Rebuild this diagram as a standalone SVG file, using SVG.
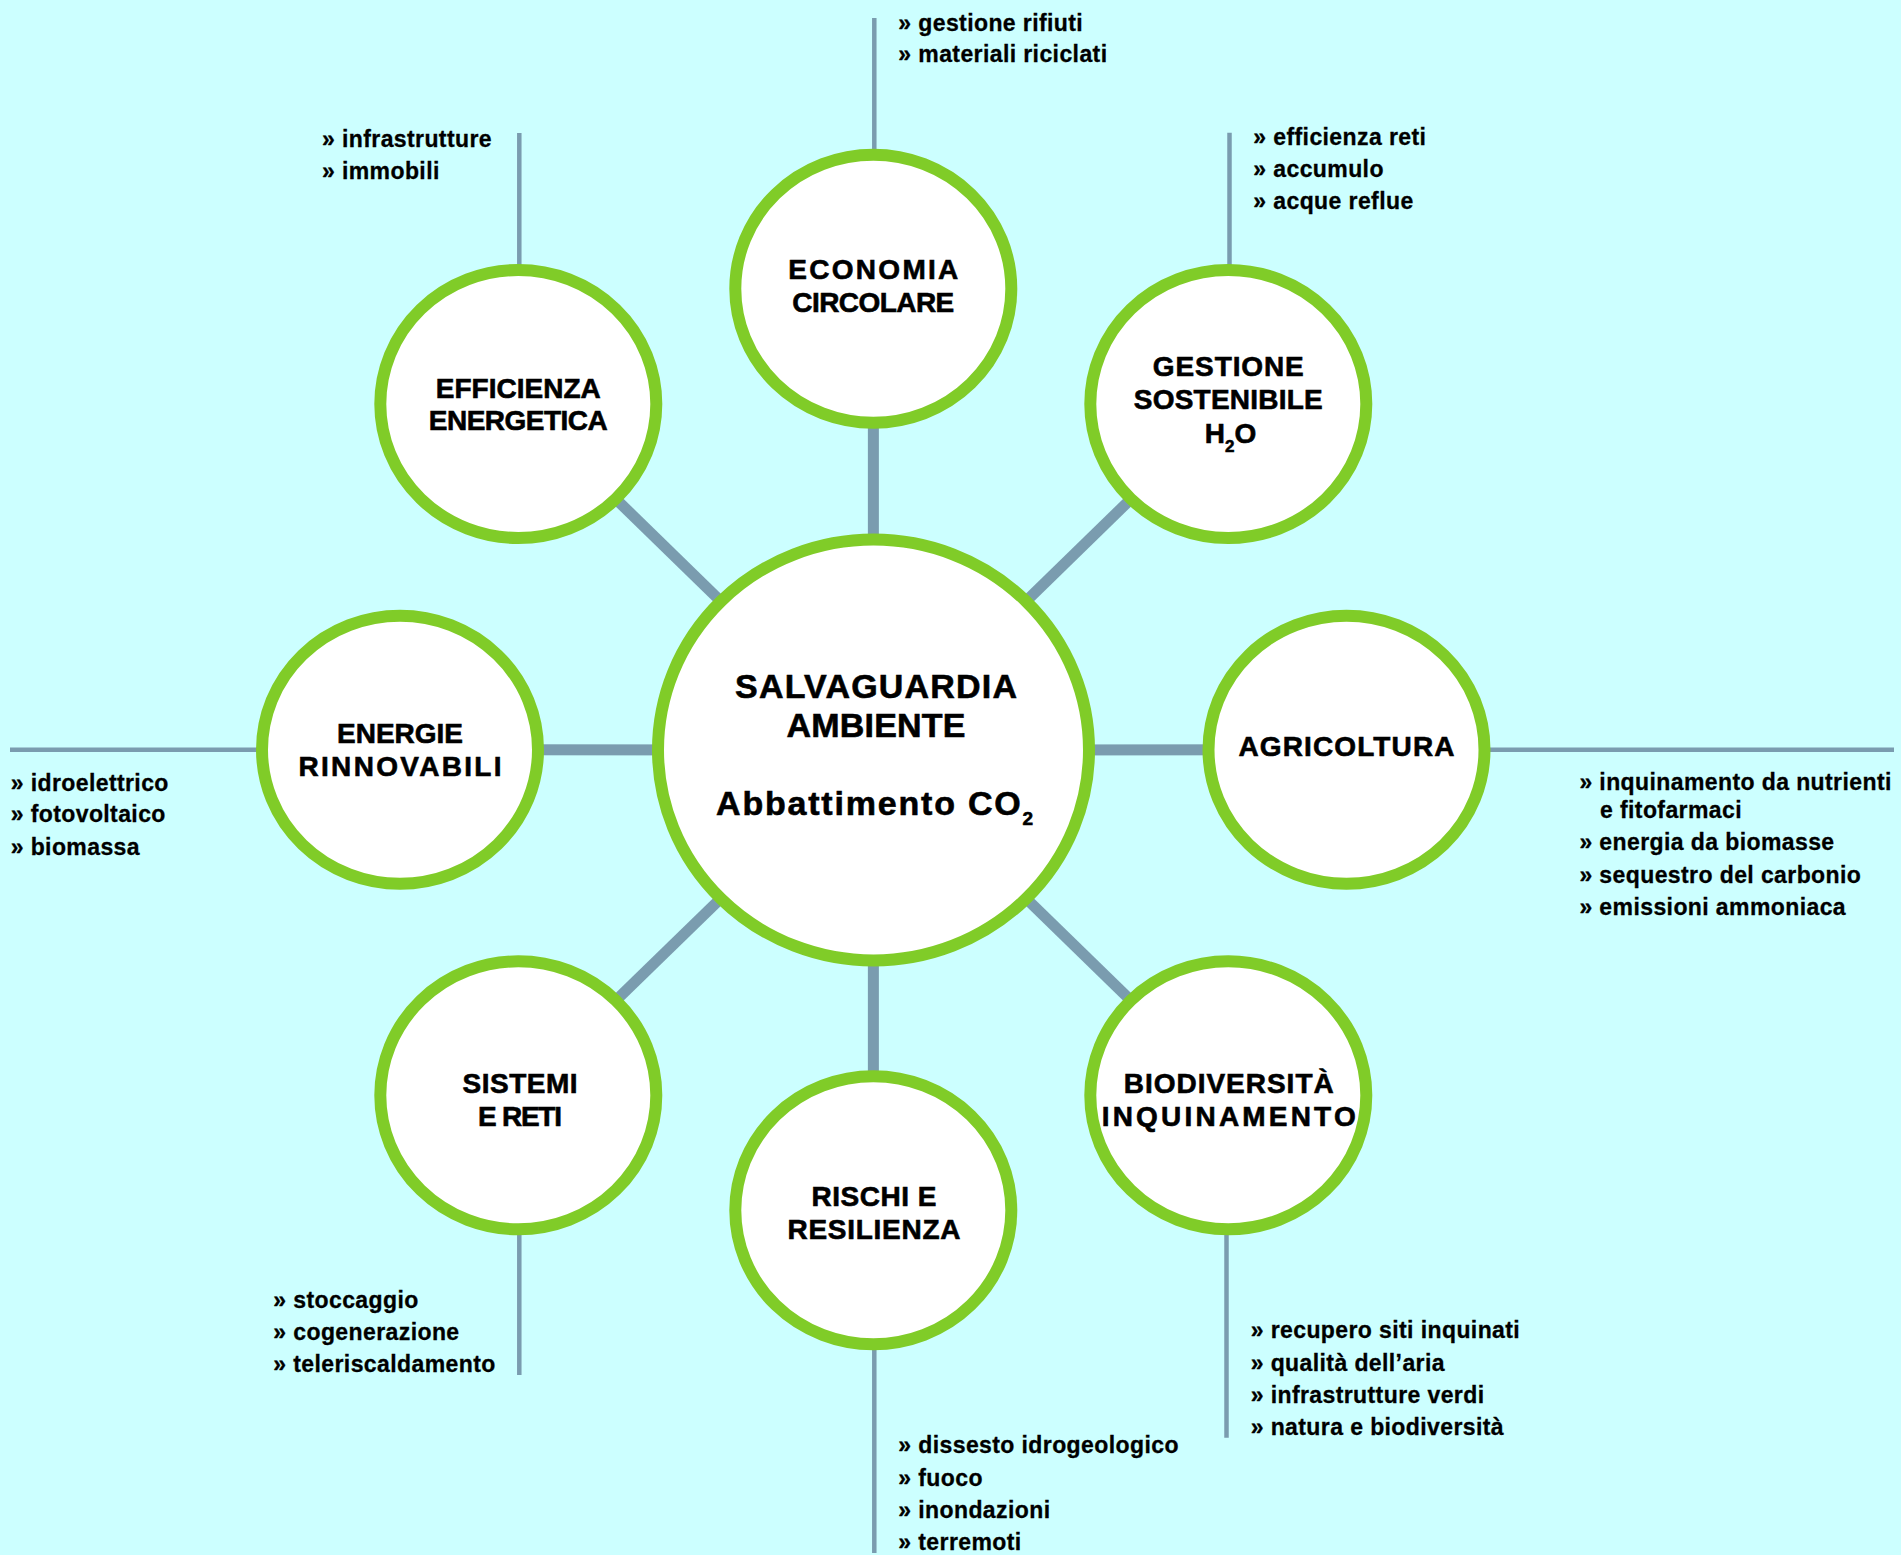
<svg xmlns="http://www.w3.org/2000/svg" width="1901" height="1555" viewBox="0 0 1901 1555">
  <style>
    .hub { fill: #ffffff; stroke: #80cc28; stroke-width: 12; }
    .spoke { stroke: #7a9caf; stroke-width: 11; fill: none; }
    .branch { stroke: #7a9caf; stroke-width: 4.5; fill: none; }
    .title { font-family: "Liberation Sans", Arial, sans-serif; font-weight: bold; font-size: 28px; fill: #000; stroke: #000; stroke-width: 0.6px; text-anchor: middle; }
    .main { font-family: "Liberation Sans", Arial, sans-serif; font-weight: bold; font-size: 34px; fill: #000; stroke: #000; stroke-width: 0.6px; text-anchor: middle; }
    .item { font-family: "Liberation Sans", Arial, sans-serif; font-weight: bold; font-size: 23px; letter-spacing: 0.4px; fill: #000; stroke: #000; stroke-width: 0.3px; }
  </style>

  <rect x="0" y="0" width="1901" height="1555" fill="#ccffff"/>

  <!-- connectors: thick spokes between the hub and each theme, thin branches to the lists -->
  <g id="connectors">
    <line class="spoke" x1="873.5" y1="750" x2="873.3" y2="288.7"/>
    <line class="spoke" x1="873.5" y1="750" x2="518.3" y2="404"/>
    <line class="spoke" x1="873.5" y1="750" x2="1228.3" y2="404"/>
    <line class="spoke" x1="873.5" y1="750" x2="400" y2="749.7"/>
    <line class="spoke" x1="873.5" y1="750" x2="1346.5" y2="749.7"/>
    <line class="spoke" x1="873.5" y1="750" x2="518.3" y2="1095.3"/>
    <line class="spoke" x1="873.5" y1="750" x2="873.3" y2="1210.3"/>
    <line class="spoke" x1="873.5" y1="750" x2="1228.3" y2="1095.3"/>

    <line class="branch" x1="874.3" y1="18" x2="874.3" y2="160"/>
    <line class="branch" x1="519.3" y1="133" x2="519.3" y2="275"/>
    <line class="branch" x1="1229.5" y1="132.7" x2="1229.5" y2="275"/>
    <line class="branch" x1="10" y1="749.7" x2="265" y2="749.7"/>
    <line class="branch" x1="1480" y1="749.7" x2="1894" y2="749.7"/>
    <line class="branch" x1="519.3" y1="1225" x2="519.3" y2="1375"/>
    <line class="branch" x1="874.3" y1="1340" x2="874.3" y2="1553"/>
    <line class="branch" x1="1226.5" y1="1225" x2="1226.5" y2="1437.7"/>
  </g>

  <!-- central hub -->
  <g id="node-salvaguardia">
    <ellipse class="hub" cx="873.5" cy="750" rx="215.5" ry="210.5"/>
    <text class="main" x="876" y="698.3" textLength="282" lengthAdjust="spacing">SALVAGUARDIA</text>
    <text class="main" x="876" y="737.3" textLength="179" lengthAdjust="spacing">AMBIENTE</text>
    <text class="main" x="875.5" y="815" letter-spacing="1.8">Abbattimento CO<tspan font-size="19" dy="10">2</tspan></text>
  </g>

  <g id="node-economia">
    <ellipse class="hub" cx="873.3" cy="288.7" rx="138" ry="134"/>
    <text class="title" x="873.3" y="279.3" textLength="170" lengthAdjust="spacing">ECONOMIA</text>
    <text class="title" x="873.3" y="312" textLength="162" lengthAdjust="spacing">CIRCOLARE</text>
  </g>

  <g id="node-efficienza">
    <ellipse class="hub" cx="518.3" cy="404" rx="138" ry="134"/>
    <text class="title" x="518.3" y="397.7" textLength="165" lengthAdjust="spacing">EFFICIENZA</text>
    <text class="title" x="518.3" y="430" textLength="179" lengthAdjust="spacing">ENERGETICA</text>
  </g>

  <g id="node-gestione">
    <ellipse class="hub" cx="1228.3" cy="404" rx="138" ry="134"/>
    <text class="title" x="1228.3" y="376" textLength="151" lengthAdjust="spacing">GESTIONE</text>
    <text class="title" x="1228.3" y="408.7" textLength="189" lengthAdjust="spacing">SOSTENIBILE</text>
    <text class="title" x="1230.5" y="442.7">H<tspan font-size="17" dy="9">2</tspan><tspan dy="-9">O</tspan></text>
  </g>

  <g id="node-energie">
    <ellipse class="hub" cx="400" cy="749.7" rx="138" ry="134"/>
    <text class="title" x="400" y="742.7" textLength="126" lengthAdjust="spacing">ENERGIE</text>
    <text class="title" x="400" y="775.7" textLength="203" lengthAdjust="spacing">RINNOVABILI</text>
  </g>

  <g id="node-agricoltura">
    <ellipse class="hub" cx="1346.5" cy="749.7" rx="138" ry="134"/>
    <text class="title" x="1346.5" y="756" textLength="216" lengthAdjust="spacing">AGRICOLTURA</text>
  </g>

  <g id="node-sistemi">
    <ellipse class="hub" cx="518.3" cy="1095.3" rx="138" ry="134"/>
    <text class="title" x="520" y="1093.3" textLength="115" lengthAdjust="spacing">SISTEMI</text>
    <text class="title" x="520" y="1125.7" textLength="84" lengthAdjust="spacing">E RETI</text>
  </g>

  <g id="node-rischi">
    <ellipse class="hub" cx="873.3" cy="1210.3" rx="138" ry="134"/>
    <text class="title" x="874" y="1206" textLength="125" lengthAdjust="spacing">RISCHI E</text>
    <text class="title" x="874" y="1239" textLength="173" lengthAdjust="spacing">RESILIENZA</text>
  </g>

  <g id="node-biodiversita">
    <ellipse class="hub" cx="1228.3" cy="1095.3" rx="138" ry="134"/>
    <text class="title" x="1228.7" y="1093.3" textLength="210" lengthAdjust="spacing">BIODIVERSITÀ</text>
    <text class="title" x="1228.7" y="1125.7" textLength="254" lengthAdjust="spacing">INQUINAMENTO</text>
  </g>

  <!-- bullet lists beside each theme -->
  <g id="list-economia">
    <text class="item" x="898.3" y="30.7">» gestione rifiuti</text>
    <text class="item" x="898.3" y="62">» materiali riciclati</text>
  </g>
  <g id="list-efficienza">
    <text class="item" x="322" y="146.7">» infrastrutture</text>
    <text class="item" x="322" y="179.3">» immobili</text>
  </g>
  <g id="list-gestione">
    <text class="item" x="1253.3" y="145">» efficienza reti</text>
    <text class="item" x="1253.3" y="177.3">» accumulo</text>
    <text class="item" x="1253.3" y="209.3">» acque reflue</text>
  </g>
  <g id="list-energie">
    <text class="item" x="10.7" y="790.7">» idroelettrico</text>
    <text class="item" x="10.7" y="822.3">» fotovoltaico</text>
    <text class="item" x="10.7" y="855">» biomassa</text>
  </g>
  <g id="list-agricoltura">
    <text class="item" x="1579.4" y="790">» inquinamento da nutrienti</text>
    <text class="item" x="1600" y="818.3">e fitofarmaci</text>
    <text class="item" x="1579.4" y="850">» energia da biomasse</text>
    <text class="item" x="1579.4" y="882.7">» sequestro del carbonio</text>
    <text class="item" x="1579.4" y="915">» emissioni ammoniaca</text>
  </g>
  <g id="list-sistemi">
    <text class="item" x="273.3" y="1308.3">» stoccaggio</text>
    <text class="item" x="273.3" y="1340">» cogenerazione</text>
    <text class="item" x="273.3" y="1372.3">» teleriscaldamento</text>
  </g>
  <g id="list-rischi">
    <text class="item" x="898.3" y="1453.3">» dissesto idrogeologico</text>
    <text class="item" x="898.3" y="1485.7">» fuoco</text>
    <text class="item" x="898.3" y="1517.7">» inondazioni</text>
    <text class="item" x="898.3" y="1550">» terremoti</text>
  </g>
  <g id="list-biodiversita">
    <text class="item" x="1250.7" y="1338.3">» recupero siti inquinati</text>
    <text class="item" x="1250.7" y="1370.7">» qualità dell’aria</text>
    <text class="item" x="1250.7" y="1402.7">» infrastrutture verdi</text>
    <text class="item" x="1250.7" y="1435">» natura e biodiversità</text>
  </g>
</svg>
